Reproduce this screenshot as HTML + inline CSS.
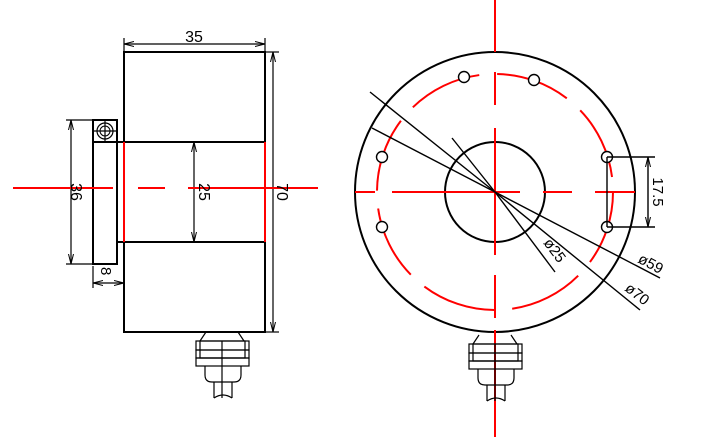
<!DOCTYPE html>
<html><head><style>body{margin:0;background:#fff}svg{display:block}</style></head><body>
<svg width="706" height="437" viewBox="0 0 706 437" xmlns="http://www.w3.org/2000/svg" font-family="Liberation Sans, sans-serif">
<defs>
<marker id="a" viewBox="0 0 10 6" refX="10" refY="3" markerWidth="10" markerHeight="6" orient="auto-start-reverse" markerUnits="userSpaceOnUse"><path d="M0,0.5 L10,3 L0,5.5" fill="none" stroke="#000" stroke-width="1"/></marker>
<g id="conn" fill="none" stroke="#000" stroke-width="1.2">
<path d="M206,332 L200,341 M238,332 L244,341"/>
<rect x="196" y="341" width="53" height="9"/>
<rect x="200" y="341" width="45" height="17"/>
<rect x="196" y="350" width="53" height="8"/>
<rect x="196" y="358" width="53" height="8"/>
<path d="M205,366 L205,375 Q205,382 212,382 L234,382 Q241,382 241,375 L241,366"/>
<path d="M214,382 L214,398 M232,382 L232,398 M214,398 Q223,392 232,398"/>
<line x1="222" y1="341" x2="222" y2="398"/>
</g>
</defs>
<g fill="none" stroke="#000" stroke-width="2">
<rect x="124" y="52" width="141" height="280"/>
<line x1="117" y1="142" x2="265" y2="142"/>
<line x1="117" y1="242" x2="265" y2="242"/>
<rect x="93" y="120" width="24" height="144"/>
<line x1="93" y1="142" x2="117" y2="142"/>
<circle cx="105" cy="131" r="8" stroke-width="1.2"/>
<circle cx="105" cy="131" r="5" stroke-width="1"/>
</g>
<g stroke="#000" stroke-width="1.2" fill="none">
<line x1="105" y1="120" x2="105" y2="142"/>
<line x1="93" y1="131" x2="117" y2="131"/>
<line x1="124" y1="38" x2="124" y2="52"/><line x1="265" y1="38" x2="265" y2="52"/>
<line x1="124" y1="44" x2="265" y2="44" marker-start="url(#a)" marker-end="url(#a)"/>
<line x1="265" y1="52" x2="279" y2="52"/><line x1="265" y1="332" x2="279" y2="332"/>
<line x1="273" y1="52" x2="273" y2="332" marker-start="url(#a)" marker-end="url(#a)"/>
<line x1="66" y1="120" x2="93" y2="120"/><line x1="66" y1="264" x2="93" y2="264"/>
<line x1="71" y1="120" x2="71" y2="264" marker-start="url(#a)" marker-end="url(#a)"/>
<line x1="194" y1="142" x2="194" y2="242" marker-start="url(#a)" marker-end="url(#a)"/>
<line x1="93" y1="266" x2="93" y2="288"/>
<line x1="93" y1="283" x2="124" y2="283" marker-start="url(#a)" marker-end="url(#a)"/>
</g>
<use href="#conn"/>
<g stroke="#f00" stroke-width="2">
<line x1="124" y1="142" x2="124" y2="242"/><line x1="265" y1="142" x2="265" y2="242"/>
<line x1="13" y1="188" x2="113" y2="188"/><line x1="138" y1="188" x2="165" y2="188"/><line x1="188" y1="188" x2="318" y2="188"/>
</g>
<g font-size="16" fill="#000">
<text x="194" y="42" text-anchor="middle">35</text>
<text transform="translate(71,192) rotate(90)" text-anchor="middle">36</text>
<text transform="translate(199,192) rotate(90)" text-anchor="middle">25</text>
<text transform="translate(277,192) rotate(90)" text-anchor="middle">70</text>
<text transform="translate(101,267) rotate(90)" text-anchor="start" font-size="15">8</text>
</g>
<g fill="none" stroke="#000" stroke-width="2">
<circle cx="495" cy="192" r="140"/>
<circle cx="495" cy="192" r="50"/>
</g>
<circle cx="495" cy="192" r="118" fill="none" stroke="#f00" stroke-width="2" stroke-dasharray="75,18"/>
<g fill="#fff" stroke="#000" stroke-width="1.4">
<circle cx="382" cy="157" r="5.5"/><circle cx="382" cy="227" r="5.5"/>
<circle cx="464" cy="77" r="5.5"/><circle cx="534" cy="80" r="5.5"/>
<circle cx="607" cy="157" r="5.5"/><circle cx="607" cy="227" r="5.5"/>
</g>
<g stroke="#f00" stroke-width="2">
<line x1="495" y1="0" x2="495" y2="52"/><line x1="495" y1="72" x2="495" y2="105"/><line x1="495" y1="128" x2="495" y2="255"/><line x1="495" y1="275" x2="495" y2="318"/><line x1="495" y1="330" x2="495" y2="437"/>
<line x1="355" y1="192" x2="375" y2="192"/><line x1="392" y1="192" x2="520" y2="192"/><line x1="543" y1="192" x2="572" y2="192"/><line x1="595" y1="192" x2="635" y2="192"/>
</g>
<g stroke="#000" stroke-width="1.4" fill="none">
<line x1="370" y1="92" x2="495" y2="192"/>
<line x1="372" y1="128" x2="495" y2="192"/>
<line x1="452" y1="138" x2="495" y2="192"/>
<line x1="495" y1="192" x2="555" y2="272"/>
<line x1="495" y1="192" x2="660" y2="278"/>
<line x1="495" y1="192" x2="640" y2="310"/>
<line x1="607" y1="157" x2="655" y2="157"/><line x1="607" y1="227" x2="655" y2="227"/>
<line x1="607" y1="157" x2="607" y2="227"/>
<line x1="648" y1="157" x2="648" y2="227" marker-start="url(#a)" marker-end="url(#a)"/>
</g>
<g font-size="15" fill="#000">
<text transform="translate(653,192) rotate(90)" text-anchor="middle">17.5</text>
<text transform="translate(543,243) rotate(53)">ø25</text>
<text transform="translate(637,262) rotate(28)">ø59</text>
<text transform="translate(624,290) rotate(38)">ø70</text>
</g>
<use href="#conn" transform="translate(273,3)"/>
</svg>
</body></html>
